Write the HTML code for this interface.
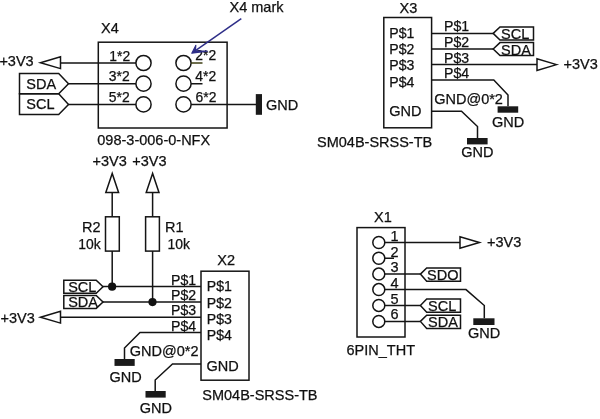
<!DOCTYPE html>
<html>
<head>
<meta charset="utf-8">
<title>Schematic</title>
<style>
html,body{margin:0;padding:0;background:#fff;}
body{width:600px;height:419px;overflow:hidden;}
svg{display:block;}
text{font-family:"Liberation Sans",sans-serif;font-size:14.5px;fill:#101010;stroke:#101010;stroke-width:0.25;}
.w{stroke:#141414;stroke-width:1.5;fill:none;stroke-linejoin:miter;}
.b{fill:#1a1a1a;stroke:none;}
.d{fill:#111;stroke:none;}
.p{font-size:13.9px;}
.q{font-size:14.1px;}
</style>
</head>
<body>
<svg width="600" height="419" viewBox="0 0 600 419">
<defs><filter id="f" x="0" y="0" width="600" height="419" filterUnits="userSpaceOnUse"><feOffset dx="0" dy="0"/></filter></defs>
<rect x="0" y="0" width="600" height="419" fill="#ffffff"/>
<g filter="url(#f)">

<!-- ================= X4 ================= -->
<g id="x4">
<rect class="w" x="98.3" y="42.2" width="128.8" height="85.8"/>
<circle class="w" cx="143.5" cy="63" r="7.6"/>
<circle class="w" cx="143.5" cy="83.7" r="7.6"/>
<circle class="w" cx="143.5" cy="104.4" r="7.6"/>
<circle class="w" cx="183.5" cy="63" r="7.6"/>
<circle class="w" cx="183.5" cy="83.7" r="7.6"/>
<circle class="w" cx="183.5" cy="104.4" r="7.6"/>
<path class="w" d="M60.5 63H136M68.5 83.7H136M68.5 104.4H136"/>
<path class="w" d="M191 83.7H202.5M191 104.4H256"/>
<path class="w" d="M191 63H202.5" style="stroke:#3e3e12"/>
<path class="w" d="M40.5 62.8L60.5 56.8V68.6Z"/>
<path class="w" d="M19.5 73.5H58.7L68.5 83.7L58.7 93.8H19.5Z"/>
<path class="w" d="M19.5 93.8H58.7L68.5 104.4L58.7 114.4H19.5Z"/>
<rect class="b" x="255.8" y="94.1" width="6.2" height="20.7"/>
<text x="-0.6" y="66.2">+3V3</text>
<text x="26.3" y="88.8">SDA</text>
<text x="26.3" y="109.4">SCL</text>
<text x="101" y="33.4">X4</text>
<text class="p" x="109.3" y="60.8">1*2</text>
<text class="p" x="108.8" y="81.3">3*2</text>
<text class="p" x="108.8" y="102">5*2</text>
<text class="p" x="195.3" y="59.6">2*2</text>
<text class="p" x="195.3" y="81">4*2</text>
<text class="p" x="195.6" y="102">6*2</text>
<text x="266" y="109.5">GND</text>
<text x="97.3" y="145.4">098-3-006-0-NFX</text>
<text x="229.5" y="12">X4 mark</text>
<!-- blue arrow -->
<path d="M241.3 18.7L194 51.6" style="stroke:#2e2e88;stroke-width:1.5;fill:none"/>
<path d="M191.8 53.2L195.8 45.4L195.4 50.8L207.2 51.2Z" style="fill:#2e2e88;stroke:#2e2e88;stroke-width:1.2;stroke-linejoin:round"/>
</g>

<!-- ================= pull-ups ================= -->
<g id="pullups">
<text x="92.5" y="165.6">+3V3</text>
<text x="132.3" y="165.6">+3V3</text>
<path class="w" d="M112.2 173.4L105.8 192.4H118.6Z"/>
<path class="w" d="M152.6 173.4L146.2 192.4H159Z"/>
<path class="w" d="M112.2 192V216.8M152.6 192V216.8"/>
<rect class="w" x="105.5" y="216.8" width="13.8" height="34.3"/>
<rect class="w" x="145.6" y="216.8" width="13.8" height="34.3"/>
<path class="w" d="M112.2 251.1V286.6M152.6 251.1V302"/>
<text x="82" y="231.8">R2</text>
<text class="p" x="78.3" y="248.8">10k</text>
<text x="165" y="231.8">R1</text>
<text class="p" x="167.5" y="248.8">10k</text>
</g>

<!-- ================= X2 ================= -->
<g id="x2">
<rect class="w" x="201" y="271.2" width="48" height="109"/>
<path class="w" d="M103 286.6H201M103 302H201M60.5 317.2H201"/>
<path class="w" d="M201 332.5H140L124.5 348V359"/>
<path class="w" d="M201 364H172.5L155.2 380V391"/>
<circle class="d" cx="112.1" cy="286.7" r="4.1"/>
<circle class="d" cx="152.5" cy="302.1" r="4.1"/>
<path class="w" d="M63.8 280.2H96.2L103 286.7L96.2 293.3H63.8Z"/>
<path class="w" d="M63.8 295.4H96.2L103 302L96.2 308.4H63.8Z"/>
<path class="w" d="M40.5 317.2L60.5 311.3V323.1Z"/>
<rect class="b" x="114.5" y="359" width="20.2" height="6.9"/>
<rect class="b" x="145.5" y="391" width="20.2" height="6.6"/>
<text x="68.2" y="291.8">SCL</text>
<text x="68.2" y="307.3">SDA</text>
<text x="0.5" y="323.3">+3V3</text>
<text x="217.3" y="264.5">X2</text>
<text class="q" x="171" y="284.6">P$1</text>
<text class="q" x="171" y="300">P$2</text>
<text class="q" x="171" y="315.3">P$3</text>
<text class="q" x="171" y="330.6">P$4</text>
<text class="q" x="206.8" y="291.3">P$1</text>
<text class="q" x="206.8" y="307.5">P$2</text>
<text class="q" x="206.8" y="323.7">P$3</text>
<text class="q" x="206.8" y="339.9">P$4</text>
<text x="206.5" y="371">GND</text>
<text x="129.8" y="356">GND@0*2</text>
<text x="109.5" y="382">GND</text>
<text x="139.8" y="413.3">GND</text>
<text x="202.3" y="400">SM04B-SRSS-TB</text>
</g>

<!-- ================= X3 ================= -->
<g id="x3">
<rect class="w" x="383.8" y="17.5" width="47.8" height="110.3"/>
<path class="w" d="M431.6 33.4H493.2M431.6 49H493.2M431.6 64.6H537"/>
<path class="w" d="M431.6 80H493.8L508 95V106.3"/>
<path class="w" d="M431.6 111.2H461.5L477.5 126.5V138"/>
<path class="w" d="M493.2 33.4L500 27H533.5V40H500Z"/>
<path class="w" d="M493.2 49L500 42.6H533.5V55.6H500Z"/>
<path class="w" d="M556.6 64.6L537 58.8V70.4Z"/>
<rect class="b" x="497.6" y="106.3" width="20.6" height="6.4"/>
<rect class="b" x="467" y="138" width="20.6" height="6.4"/>
<text x="399.5" y="12.5">X3</text>
<text class="q" x="389.3" y="37.7">P$1</text>
<text class="q" x="389.3" y="54">P$2</text>
<text class="q" x="389.3" y="70.3">P$3</text>
<text class="q" x="389.3" y="86.6">P$4</text>
<text x="389.3" y="116.4">GND</text>
<text class="q" x="444" y="31.4">P$1</text>
<text class="q" x="444" y="47.1">P$2</text>
<text class="q" x="444" y="62.7">P$3</text>
<text class="q" x="444" y="78.2">P$4</text>
<text x="501" y="39.3">SCL</text>
<text x="501" y="54.9">SDA</text>
<text x="563.5" y="68.6">+3V3</text>
<text x="434.2" y="104.2">GND@0*2</text>
<text x="492" y="127">GND</text>
<text x="461.3" y="157">GND</text>
<text x="317" y="146.8">SM04B-SRSS-TB</text>
</g>

<!-- ================= X1 ================= -->
<g id="x1">
<rect class="w" x="357" y="227.6" width="48" height="109.4"/>
<circle class="w" cx="378.8" cy="242.5" r="6"/>
<circle class="w" cx="378.8" cy="258.2" r="6"/>
<circle class="w" cx="378.8" cy="274.1" r="6"/>
<circle class="w" cx="378.8" cy="289.6" r="6"/>
<circle class="w" cx="378.8" cy="305.4" r="6"/>
<circle class="w" cx="378.8" cy="321.4" r="6"/>
<path class="w" d="M384.8 242.6H460M384.8 258.3H394M384.8 274.1H420.4M384.8 305.4H420.4M384.8 321.4H420.4"/>
<path class="w" d="M384.8 289.6H466L484.3 305.5V318.3"/>
<path class="w" d="M479.4 242.5L460 236.8V248.3Z"/>
<path class="w" d="M420.4 274.1L426.7 268H460.5V281.3H426.7Z"/>
<path class="w" d="M420.4 305.4L426.7 298.9H460.5V312.2H426.7Z"/>
<path class="w" d="M420.4 321.4L426.7 315.2H460.5V328.5H426.7Z"/>
<rect class="b" x="473.3" y="318.3" width="21.2" height="6.7"/>
<text x="374" y="221.8">X1</text>
<text x="390.5" y="241.0">1</text>
<text x="390.5" y="256.8">2</text>
<text x="390.5" y="272.4">3</text>
<text x="390.5" y="288.0">4</text>
<text x="390.5" y="303.8">5</text>
<text x="390.5" y="319.4">6</text>
<text x="427" y="279.9">SDO</text>
<text x="428" y="311.4">SCL</text>
<text x="428" y="327.4">SDA</text>
<text x="487" y="246.5">+3V3</text>
<text x="468" y="337.6">GND</text>
<text x="346.5" y="354.5">6PIN_THT</text>
</g>
</g>
</svg>
</body>
</html>
